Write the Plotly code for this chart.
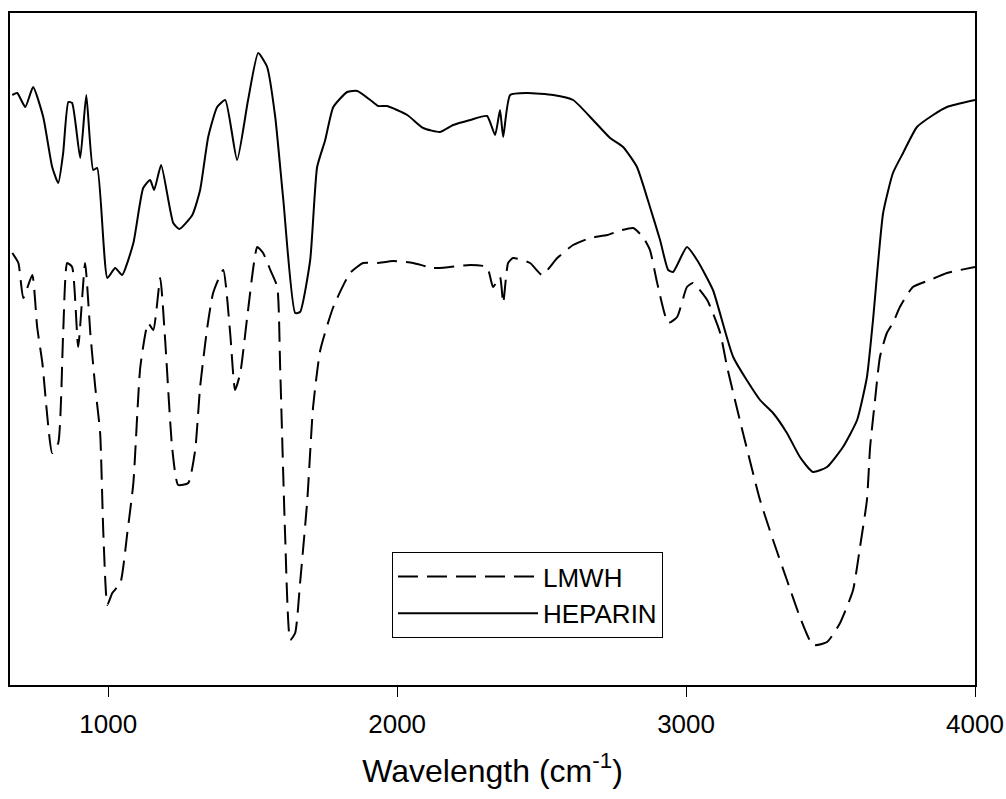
import plotly.graph_objects as go

# HEPARIN (solid) - wavenumber (cm^-1) and transmittance (arbitrary units)
hep_w = [668, 685, 713, 740, 775, 806, 827, 844, 862, 875, 903, 924, 948, 962, 997, 1024, 1048,
         1087, 1121, 1145, 1159, 1183, 1225, 1246, 1291, 1318, 1346, 1377, 1405, 1446, 1484, 1519,
         1550, 1578, 1606, 1647, 1664, 1699, 1723, 1751, 1779, 1827, 1862, 1907, 1934, 1965, 2035,
         2090, 2149, 2194, 2253, 2311, 2339, 2356, 2367, 2391, 2450, 2540, 2609, 2678, 2737, 2782,
         2830, 2875, 2910, 2938, 2955, 3003, 3038, 3093, 3163, 3256, 3301, 3349, 3394, 3439, 3488,
         3543, 3592, 3626, 3647, 3682, 3716, 3751, 3799, 3855, 3903, 4000]
hep_t = [590, 592, 578, 598, 568, 518, 502, 532, 583, 582, 527, 590, 515, 517, 407, 417, 410,
         442, 497, 505, 495, 520, 462, 456, 470, 495, 548, 578, 585, 525, 585, 632,
         618, 568, 485, 372, 373, 425, 518, 545, 578, 593, 594, 585, 579, 579, 570,
         557, 553, 560, 565, 569, 550, 575, 548, 590, 592, 590, 585, 565, 547, 538,
         518, 478, 445, 415, 413, 438, 425, 395, 328, 285, 272, 252, 228, 213, 218,
         238, 265, 308, 365, 472, 512, 532, 558, 570, 578, 585]

# LMWH (dashed)
lmwh_w = [668, 689, 706, 737, 754, 772, 806, 827, 844, 858, 875, 896, 920, 938, 955, 972, 983,
          997, 1014, 1042, 1066, 1087, 1111, 1138, 1156, 1180, 1197, 1221, 1242, 1277, 1301, 1318,
          1343, 1363, 1398, 1422, 1439, 1457, 1484, 1516, 1536, 1561, 1585, 1595, 1612, 1630, 1647,
          1664, 1689, 1709, 1734, 1779, 1837, 1882, 1931, 1986, 2055, 2125, 2183, 2253, 2311, 2332,
          2356, 2367, 2384, 2401, 2460, 2502, 2554, 2609, 2668, 2727, 2778, 2817, 2851, 2875, 2900,
          2938, 2969, 3003, 3024, 3073, 3118, 3142, 3197, 3256, 3301, 3349, 3394, 3439, 3488, 3533,
          3578, 3602, 3626, 3637, 3654, 3671, 3695, 3716, 3740, 3785, 3844, 3903, 4000]
lmwh_t = [432, 422, 387, 410, 358, 322, 232, 242, 352, 422, 418, 338, 422, 352, 298, 252, 152,
          80, 92, 102, 152, 202, 318, 362, 355, 407, 345, 238, 200, 202, 235, 298,
          358, 392, 415, 352, 295, 312, 375, 438, 432, 415, 398, 318, 152, 45, 52,
          102, 185, 278, 335, 378, 412, 422, 422, 424, 422, 417, 418, 420, 418, 398,
          408, 382, 422, 427, 422, 410, 427, 440, 447, 450, 455, 457, 448, 435, 402,
          362, 368, 398, 402, 385, 352, 318, 252, 185, 145, 105, 68, 40, 43, 62,
          95, 138, 185, 238, 285, 328, 352, 362, 378, 398, 405, 412, 418]

x_range = [660, 4000]
y_range = [0, 672]
tick_vals = [1000, 2000, 3000, 4000]

FONT = "Liberation Sans, Arial, sans-serif"

fig = go.Figure()
fig.add_trace(go.Scatter(x=lmwh_w, y=lmwh_t, mode="lines", name="LMWH",
                         line=dict(color="black", width=2, dash="20px,9px",
                                   shape="spline", smoothing=0.5)))
fig.add_trace(go.Scatter(x=hep_w, y=hep_t, mode="lines", name="HEPARIN",
                         line=dict(color="black", width=2, shape="spline", smoothing=0.5)))

fig.update_layout(
    width=1006, height=799,
    margin=dict(l=10, r=31, t=13, b=114),
    paper_bgcolor="white", plot_bgcolor="white",
    font=dict(family=FONT, color="black"),
    showlegend=True,
    legend=dict(
        x=(392 - 10) / 965, y=(685 - 552) / 672, xanchor="left", yanchor="top",
        bordercolor="black", borderwidth=1, bgcolor="white",
        font=dict(size=26, family=FONT), itemwidth=140,
    ),
    xaxis=dict(
        range=x_range, tickvals=tick_vals, ticks="outside", ticklen=10, tickwidth=1,
        tickcolor="black", showline=True, linecolor="black", linewidth=2, mirror=True,
        showgrid=False, zeroline=False, tickfont=dict(size=26, family=FONT),
        ticklabelstandoff=5, automargin=False,
        title=dict(text="Wavelength (cm<sup>-1</sup>)", font=dict(size=32, family=FONT),
                   standoff=21),
    ),
    yaxis=dict(
        range=y_range, showticklabels=False, ticks="", showline=True, linecolor="black",
        linewidth=2, mirror=True, showgrid=False, zeroline=False, automargin=False,
    ),
)

fig.write_html("out.html")
